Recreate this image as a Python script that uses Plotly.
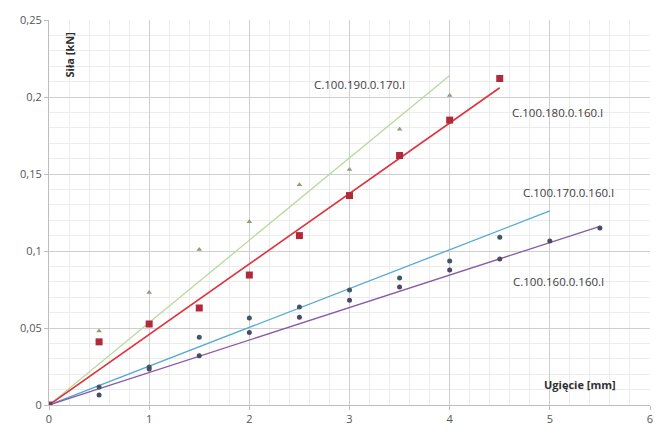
import plotly.graph_objects as go

# Data
x_green = [0, 0.5, 1, 1.5, 2, 2.5, 3, 3.5, 4]
y_green = [0, 0.048, 0.073, 0.101, 0.119, 0.143, 0.153, 0.179, 0.201]
fit_green_x = [0, 4]
fit_green_y = [0, 0.214]

x_red = [0, 0.5, 1, 1.5, 2, 2.5, 3, 3.5, 4, 4.5]
y_red = [0, 0.041, 0.0526, 0.063, 0.0844, 0.110, 0.136, 0.162, 0.185, 0.212]
fit_red_x = [0, 4.5]
fit_red_y = [0, 0.206]

x_blue = [0, 0.5, 1, 1.5, 2, 2.5, 3, 3.5, 4, 4.5]
y_blue = [0, 0.0117, 0.0247, 0.044, 0.0565, 0.0636, 0.0747, 0.0825, 0.0935, 0.109]
fit_blue_x = [0, 5]
fit_blue_y = [0, 0.126]

x_purple = [0, 0.5, 1, 1.5, 2, 2.5, 3, 3.5, 4, 4.5, 5, 5.5]
y_purple = [0, 0.0065, 0.0234, 0.032, 0.047, 0.057, 0.068, 0.0766, 0.0877, 0.0948, 0.1065, 0.115]
fit_purple_x = [0, 5.5]
fit_purple_y = [0, 0.116]

labels = ["C.100.190.0.170.I", "C.100.180.0.160.I", "C.100.170.0.160.I", "C.100.160.0.160.I"]
label_pos = [(3.10, 0.208), (5.08, 0.190), (5.19, 0.138), (5.09, 0.0805)]

x_ticks = [0, 1, 2, 3, 4, 5, 6]
y_ticks = [0, 0.05, 0.1, 0.15, 0.2, 0.25]
y_ticklabels = ["0", "0,05", "0,1", "0,15", "0,2", "0,25"]

fig = go.Figure()

# trend lines
fig.add_trace(go.Scatter(x=fit_green_x, y=fit_green_y, mode="lines",
                         line=dict(color="#b9d99a", width=1.3), showlegend=False))
fig.add_trace(go.Scatter(x=fit_red_x, y=fit_red_y, mode="lines",
                         line=dict(color="#e0323c", width=1.6), showlegend=False))
fig.add_trace(go.Scatter(x=fit_blue_x, y=fit_blue_y, mode="lines",
                         line=dict(color="#52a9d6", width=1.3), showlegend=False))
fig.add_trace(go.Scatter(x=fit_purple_x, y=fit_purple_y, mode="lines",
                         line=dict(color="#8a5aa6", width=1.3), showlegend=False))

# points
fig.add_trace(go.Scatter(x=x_green, y=y_green, mode="markers",
                         marker=dict(symbol="triangle-up", size=5, color="#8f9c7e"), showlegend=False))
fig.add_trace(go.Scatter(x=x_red, y=y_red, mode="markers",
                         marker=dict(symbol="square", size=7, color="#b02a3a"), showlegend=False))
fig.add_trace(go.Scatter(x=x_blue, y=y_blue, mode="markers",
                         marker=dict(symbol="circle", size=5, color="#3e5866"), showlegend=False))
fig.add_trace(go.Scatter(x=x_purple, y=y_purple, mode="markers",
                         marker=dict(symbol="circle", size=5, color="#4a4a66"), showlegend=False))

for txt, (ax, ay) in zip(labels, label_pos):
    fig.add_annotation(x=ax, y=ay, text=txt, showarrow=False,
                       xanchor="center", yanchor="middle",
                       font=dict(family="Open Sans", size=11.5, color="#404040"))

fig.add_annotation(x=0.2, y=0.227, text="<b>Siła [kN]</b>", showarrow=False, textangle=-90,
                   xanchor="center", yanchor="middle",
                   font=dict(family="Open Sans", size=11, color="#303030"))
fig.add_annotation(x=5.3, y=0.013, text="<b>Ugięcie [mm]</b>", showarrow=False,
                   xanchor="center", yanchor="middle",
                   font=dict(family="Open Sans", size=11, color="#303030"))

fig.update_xaxes(range=[0, 6], tickvals=x_ticks, showgrid=True, gridcolor="#cfcfcf",
                 gridwidth=1, zeroline=False, showline=True, linecolor="#bdbdbd",
                 ticks="outside", ticklen=4, tickcolor="#bdbdbd", automargin=False,
                 minor=dict(dtick=0.2, showgrid=True, gridcolor="#ececec"),
                 tickfont=dict(family="Open Sans", size=11, color="#555555"))
fig.update_yaxes(range=[0, 0.25], tickvals=y_ticks, ticktext=y_ticklabels, showgrid=True,
                 gridcolor="#cfcfcf", gridwidth=1, zeroline=False, showline=True,
                 linecolor="#bdbdbd", ticks="outside", ticklen=4, tickcolor="#bdbdbd",
                 automargin=False,
                 minor=dict(dtick=0.01, showgrid=True, gridcolor="#ececec"),
                 tickfont=dict(family="Open Sans", size=11, color="#555555"))

fig.update_layout(width=656, height=434, margin=dict(l=49, r=6, t=20, b=29),
                  paper_bgcolor="white", plot_bgcolor="white", showlegend=False)

fig.write_html("out.html", config={"displayModeBar": False},
               post_script="document.body.style.margin='0';document.body.style.overflow='hidden';")
